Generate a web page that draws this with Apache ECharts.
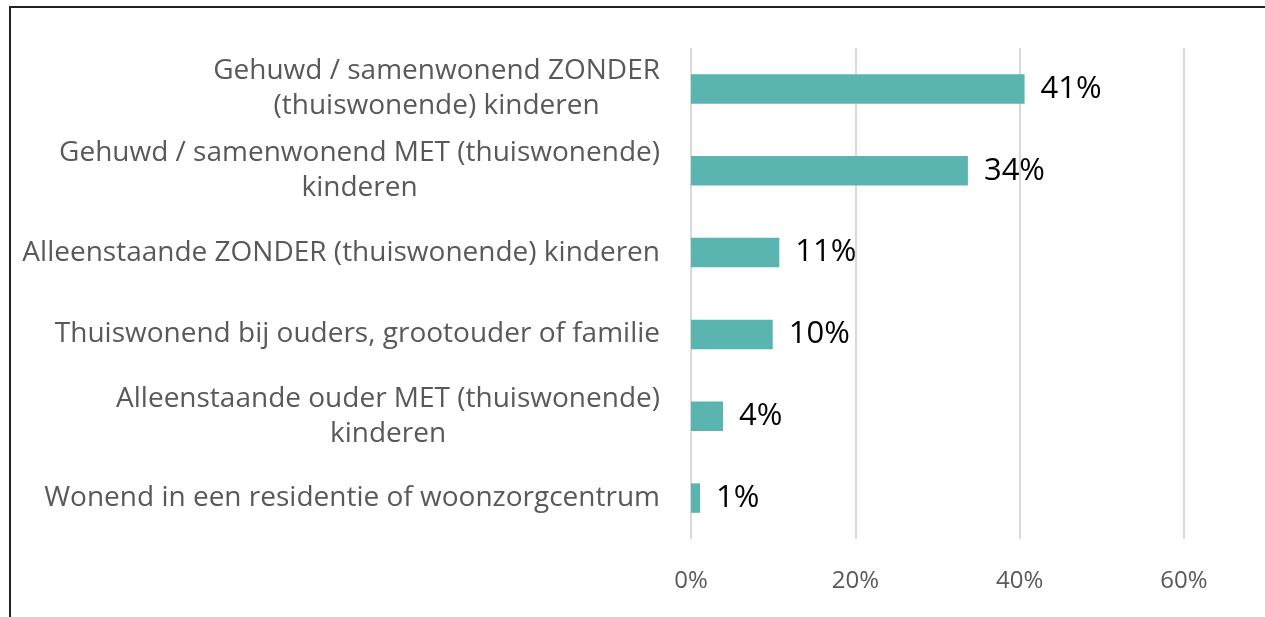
<!DOCTYPE html>
<html>
<head>
<meta charset="utf-8">
<script src="https://cdn.jsdelivr.net/npm/echarts@6/dist/echarts.min.js"></script>
<style>
html,body{margin:0;padding:0;background:#fff;}
#frame{position:absolute;left:9px;top:6px;width:1300px;height:700px;border:2px solid #222;box-sizing:border-box;}
#chart{position:absolute;left:0;top:0;width:1265px;height:617px;}
</style>
</head>
<body>
<div id="frame"></div>
<div id="chart"></div>
<script>
const categories = [
  "Gehuwd / samenwonend ZONDER\n(thuiswonende) kinderen",
  "Gehuwd / samenwonend MET (thuiswonende)\nkinderen",
  "Alleenstaande ZONDER (thuiswonende) kinderen",
  "Thuiswonend bij ouders, grootouder of familie",
  "Alleenstaande ouder MET (thuiswonende)\nkinderen",
  "Wonend in een residentie of woonzorgcentrum"
];
const values = [40.6, 33.7, 10.75, 9.95, 3.9, 1.1];
const valueLabels = ["41%", "34%", "11%", "10%", "4%", "1%"];
const xTicks = [0, 20, 40, 60];

const chart = echarts.init(document.getElementById('chart'), null, {renderer: 'canvas'});
const FONT = 'Open Sans';
chart.setOption({
  animation: false,
  backgroundColor: 'transparent',
  grid: {left: 691, right: 81, top: 48, bottom: 78, containLabel: false},
  xAxis: {
    type: 'value',
    min: xTicks[0],
    max: xTicks[xTicks.length - 1],
    interval: 20,
    axisLine: {show: false},
    axisTick: {show: false},
    splitLine: {show: true, lineStyle: {color: '#d9d9d9', width: 2}},
    axisLabel: {
      formatter: v => v + '%',
      color: '#595959',
      fontFamily: FONT,
      fontSize: 24,
      margin: 30
    }
  },
  yAxis: {
    type: 'category',
    inverse: true,
    data: categories,
    axisLine: {show: false},
    axisTick: {show: false},
    axisLabel: {
      margin: 31,
      align: 'right',
      formatter: v => v.split('\n').map(s => '{c|' + s + '}').join('\n'),
      rich: {
        c: {align: 'center', color: '#595959', fontFamily: FONT, fontSize: 28, lineHeight: 35}
      }
    }
  },
  series: [{
    type: 'bar',
    data: values,
    barCategoryGap: '64%',
    itemStyle: {color: '#5ab5b1'},
    label: {
      show: true,
      position: 'right',
      distance: 16,
      color: '#000',
      fontFamily: FONT,
      fontSize: 31,
      formatter: p => valueLabels[p.dataIndex]
    }
  }]
});
</script>
</body>
</html>
